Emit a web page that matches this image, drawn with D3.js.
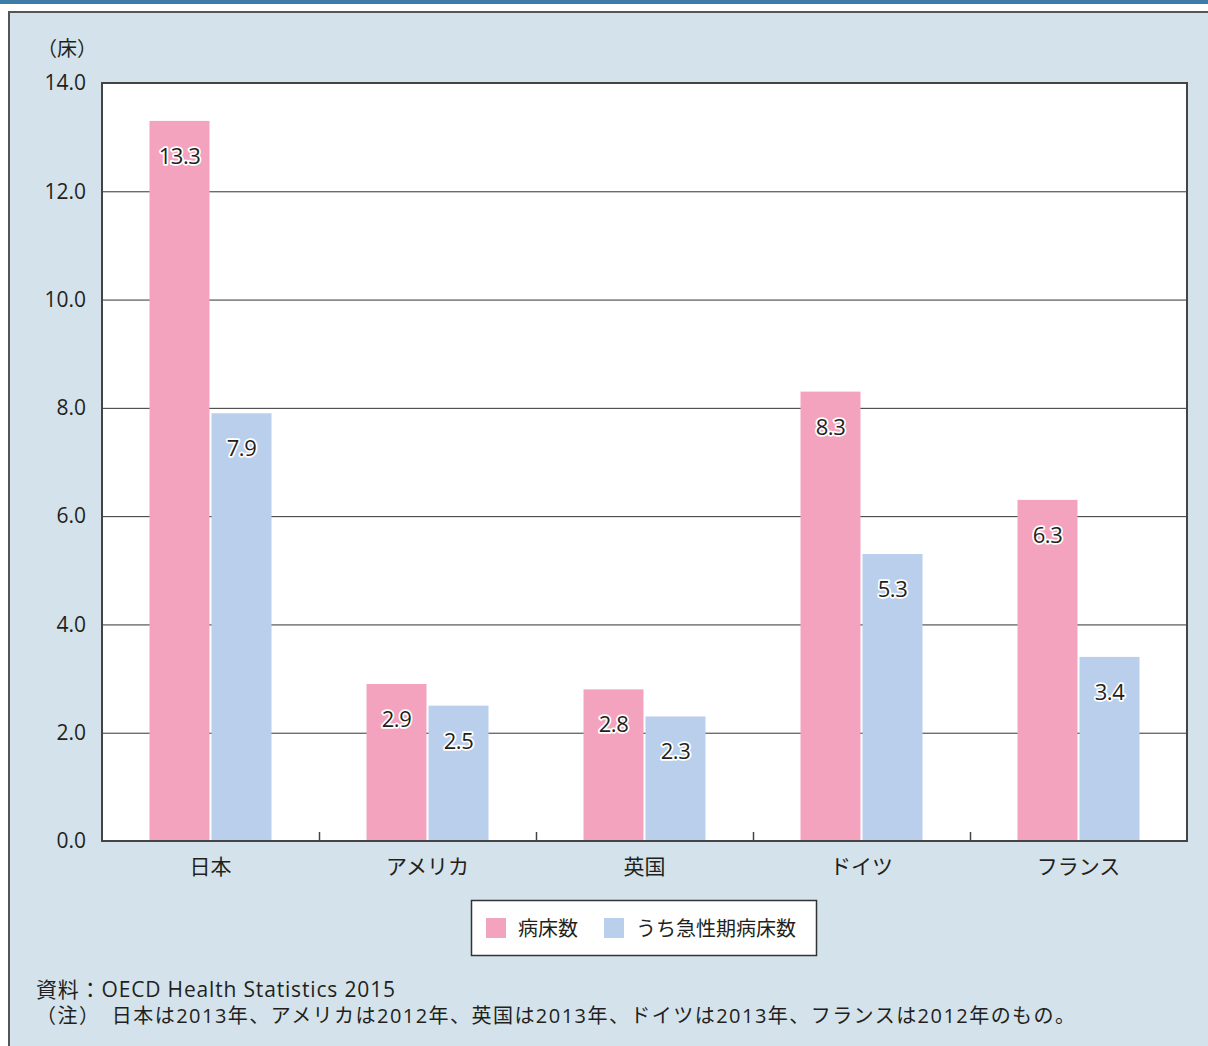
<!DOCTYPE html>
<html><head><meta charset="utf-8">
<script src="https://cdn.jsdelivr.net/npm/d3@7"></script>
<style>
html,body{margin:0;padding:0;background:#fff;}
text{font-family:"Open Sans","Noto Sans CJK JP",sans-serif;fill:#231f20;}
</style></head><body>
<svg id="chart" width="1208" height="1046"></svg>
<script>
const categories = ["日本", "アメリカ", "英国", "ドイツ", "フランス"];
const seriesNames = ["病床数", "うち急性期病床数"];
const beds = [13.3, 2.9, 2.8, 8.3, 6.3];
const acuteBeds = [7.9, 2.5, 2.3, 5.3, 3.4];
const yTicks = [0, 2, 4, 6, 8, 10, 12, 14];
const unitLabel = "（床）";
const sourceText = "資料：OECD Health Statistics 2015";
const noteText = "（注）　日本は2013年、アメリカは2012年、英国は2013年、ドイツは2013年、フランスは2012年のもの。";
const colors = ["#f4a3bf", "#b9cfec"];

const FONT = '"Open Sans","Noto Sans CJK JP",sans-serif';
const svg = d3.select("#chart");
// top strip
svg.append("rect").attr("x",0).attr("y",0).attr("width",1208).attr("height",4).attr("fill","#3d7ca6");
// panel
svg.append("rect").attr("x",9).attr("y",12).attr("width",1220).attr("height",1060)
  .attr("fill","#d4e3eb").attr("stroke","#555").attr("stroke-width",2);

const L=102, R=1187, T=83, B=841;
const x = d3.scaleBand().domain(categories).range([L,R]).paddingInner(0).paddingOuter(0);
const y = d3.scaleLinear().domain([0,14]).range([B,T]);
const barW = 60, gap = 2;

svg.append("rect").attr("x",L).attr("y",T).attr("width",R-L).attr("height",B-T).attr("fill","#fff");

// gridlines
svg.append("g").selectAll("line").data(yTicks.filter(d=>d>0 && d<14)).join("line")
  .attr("x1",L).attr("x2",R).attr("y1",d=>y(d)+0.5).attr("y2",d=>y(d)+0.5)
  .attr("stroke","#333").attr("stroke-width",1);

// y labels
const yAxis = d3.axisLeft(y).tickValues(yTicks).tickFormat(d3.format(".1f")).tickSize(0).tickPadding(16);
const ya = svg.append("g").attr("transform",`translate(${L},0)`).call(yAxis);
ya.select(".domain").remove();
ya.selectAll("text").style("font-size","21px").attr("fill","#231f20").style("font-family",FONT);

// bars
const data = categories.map((c,i)=>({c, v:[beds[i], acuteBeds[i]]}));
const groups = svg.append("g").selectAll("g").data(data).join("g");
groups.each(function(d){
  const g = d3.select(this);
  const cx = x(d.c) + x.bandwidth()/2;
  d.v.forEach((v,k)=>{
    const bx = k===0 ? cx - gap/2 - barW : cx + gap/2;
    g.append("rect").attr("x",bx).attr("y",y(v)).attr("width",barW).attr("height",y(0)-y(v)).attr("fill",colors[k]);
    g.append("text").attr("x",bx+barW/2).attr("y",y(v)+34).attr("text-anchor","middle")
      .attr("dominant-baseline","central").style("font-size","22px").style("letter-spacing","-0.5px")
      .attr("stroke","#fff").attr("stroke-width",3.5).attr("stroke-linejoin","round")
      .attr("paint-order","stroke").text(d3.format(".1f")(v));
  });
});

// frame
svg.append("rect").attr("x",L).attr("y",T).attr("width",R-L).attr("height",B-T)
  .attr("fill","none").attr("stroke","#444").attr("stroke-width",2);

// category separator ticks
svg.append("g").selectAll("line").data(categories.slice(1)).join("line")
  .attr("x1",d=>Math.round(x(d))+0.5).attr("x2",d=>Math.round(x(d))+0.5).attr("y1",B).attr("y2",B-9)
  .attr("stroke","#444").attr("stroke-width",1.5);

// x labels
const xAxis = d3.axisBottom(x).tickSize(0).tickPadding(18);
const xa = svg.append("g").attr("transform",`translate(0,${B})`).call(xAxis);
xa.select(".domain").remove();
xa.selectAll("text").style("font-size","21px").attr("fill","#231f20").style("font-family",FONT);

// unit label
svg.append("text").attr("x",37).attr("y",56).style("font-size","20px").text(unitLabel);

// legend
const lg = svg.append("g");
lg.append("rect").attr("x",471.5).attr("y",900.5).attr("width",345).attr("height",55).attr("fill","#fff").attr("stroke","#333").attr("stroke-width",1.5);
const legX = [486, 604];
seriesNames.forEach((n,k)=>{
  lg.append("rect").attr("x",legX[k]).attr("y",918).attr("width",20).attr("height",20).attr("fill",colors[k]);
  lg.append("text").attr("x",legX[k]+32).attr("y",928).attr("dominant-baseline","central").style("font-size","20px").text(n);
});

// footer
svg.append("text").attr("x",36).attr("y",997).style("font-size","21px")
  .attr("textLength",359).attr("lengthAdjust","spacing").text(sourceText);
svg.append("text").attr("x",36).attr("y",1023).style("font-size","20px")
  .attr("textLength",1039).attr("lengthAdjust","spacing").text(noteText);
</script></body></html>
